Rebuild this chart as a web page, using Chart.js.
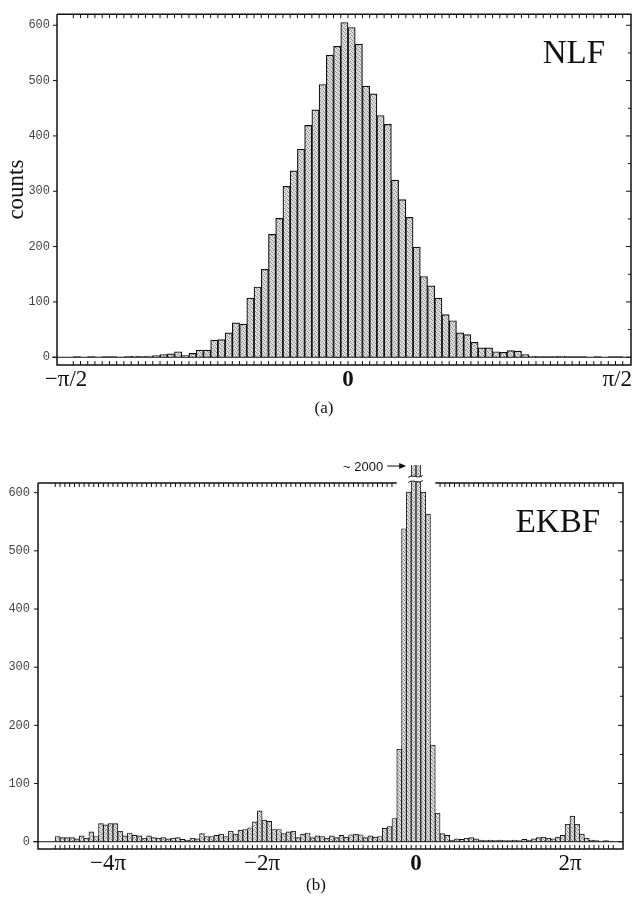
<!DOCTYPE html>
<html>
<head>
<meta charset="utf-8">
<script src="https://cdn.jsdelivr.net/npm/chart.js@4.4.1/dist/chart.umd.min.js"></script>
<style>
  body { margin: 0; background: #fff; width: 633px; height: 915px; position: relative; overflow: hidden; }
  canvas { position: absolute; left: 0; }
  #nlf { top: 0; }
  #ekbf { top: 440px; }
  .cap { position: absolute; font: 17px "Liberation Serif", serif; color: #111; transform: translate(-50%, -50%); }
</style>
</head>
<body>
<canvas id="nlf" width="633" height="400"></canvas>
<canvas id="ekbf" width="633" height="440"></canvas>
<div class="cap" style="left:324px; top:408px;">(a)</div>
<div class="cap" style="left:316px; top:885px;">(b)</div>
<script>
// (a) NLF histogram, bins -38 .. 37 of width pi/78
const nlfBinWidth = Math.PI / 78;
const nlfFirstBin = -38;
const nlfCounts = [
  1, 0, 1, 0, 1, 1, 0, 1,
  2, 1, 2, 3, 5, 6, 10, 3, 7, 13,
  13, 31, 32, 44, 62, 60, 107, 127, 159, 222,
  251, 309, 337, 376, 419, 447, 493, 546, 562, 605,
  596, 566, 490, 476, 437, 421, 320, 285, 253, 199,
  146, 129, 107, 77, 66, 44, 41, 27, 17, 17,
  10, 9, 12, 11, 5, 2, 1, 1, 1, 2,
  1, 1, 1, 0, 1, 0, 1, 1
];
const nlfTickValues = [-Math.PI / 2, 0, Math.PI / 2];
const nlfTickLabels = ['−π/2', '0', 'π/2'];

// (b) EKBF histogram, bins -75 .. 40 of width pi/16
const ekbfBinWidth = Math.PI / 16;
const ekbfFirstBin = -75;
const ekbfCounts = [
  9, 7, 7, 7, 5, 10, 6, 17, 9,
  31, 29, 31, 31, 18, 10, 15, 11, 10, 6,
  10, 7, 6, 7, 5, 6, 7, 4, 3, 6,
  5, 14, 9, 9, 11, 13, 9, 18, 13, 20,
  21, 24, 34, 53, 37, 35, 21, 21, 14, 17,
  18, 7, 13, 15, 7, 10, 9,
  6, 10, 7, 11, 8, 12, 13, 12, 7, 10, 8, 9,
  23, 26, 40, 159, 538, 601, 2000, 2000, 601, 563, 166, 49, 14, 11,
  3, 5, 4, 6, 7, 5, 3, 2, 3, 2, 3, 2, 2, 3, 2, 4, 3, 5, 7, 8, 6, 5, 8, 11, 30, 44, 30, 13, 6, 3, 2, 1, 2, 1
];
const ekbfTickValues = [-4 * Math.PI, -2 * Math.PI, 0, 2 * Math.PI];
const ekbfTickLabels = ['−4π', '−2π', '0', '2π'];

const countTicks = [0, 100, 200, 300, 400, 500, 600];

function stipple() {
  const c = document.createElement('canvas');
  c.width = 4; c.height = 4;
  const g = c.getContext('2d');
  g.fillStyle = '#dedede';
  g.fillRect(0, 0, 4, 4);
  g.fillStyle = '#858585';
  [[0, 0], [2, 1], [1, 2], [3, 3]].forEach(p => g.fillRect(p[0], p[1], 1, 1));
  return g.createPattern(c, 'repeat');
}

function binPoints(first, width, counts) {
  return counts.map((c, i) => ({ x: (first + i + 0.5) * width, y: c }));
}

// frame, inward ticks, x labels, panel name, axis break
const framePlugin = {
  id: 'frame',
  afterDatasetsDraw(chart, args, o) {
    const { ctx, chartArea: a, scales: { x, y } } = chart;
    const bars = chart.getDatasetMeta(0).data;
    ctx.save();
    ctx.strokeStyle = '#111';
    ctx.fillStyle = '#111';

    // gap in the top frame over the tall central bars
    let gapL = null, gapR = null;
    if (o.gapAbove) {
      bars.forEach((b, i) => {
        if (o.counts[i] > o.gapAbove) {
          const l = b.x - b.width / 2, r = b.x + b.width / 2;
          gapL = gapL === null ? l : Math.min(gapL, l);
          gapR = gapR === null ? r : Math.max(gapR, r);
        }
      });
    }
    const inGap = px => gapL !== null && px > gapL - 1 && px < gapR + 1;

    // zero line
    const y0 = y.getPixelForValue(0);
    ctx.lineWidth = 1;
    ctx.beginPath();
    ctx.moveTo(a.left - 5, y0);
    ctx.lineTo(a.right, y0);
    ctx.stroke();

    // frame
    ctx.lineWidth = 1.5;
    ctx.beginPath();
    ctx.moveTo(a.left, a.top);
    ctx.lineTo(a.left, a.bottom);
    ctx.lineTo(a.right, a.bottom);
    ctx.lineTo(a.right, a.top);
    if (gapL !== null) {
      ctx.lineTo(gapR, a.top);
      ctx.moveTo(gapL, a.top);
    }
    ctx.lineTo(a.left, a.top);
    ctx.stroke();

    // ticks at bin edges, top and bottom
    ctx.lineWidth = 1;
    ctx.beginPath();
    for (let i = 0; i <= o.counts.length; i++) {
      const px = x.getPixelForValue((o.first + i) * o.width);
      ctx.moveTo(px, a.bottom);
      ctx.lineTo(px, a.bottom - 4);
      if (!inGap(px)) {
        ctx.moveTo(px, a.top);
        ctx.lineTo(px, a.top + 4);
      }
    }
    // count ticks, left outward and right inward
    for (let v = 0; v <= 600; v += 50) {
      const py = y.getPixelForValue(v);
      if (v % 100 === 0) {
        ctx.moveTo(a.left, py);
        ctx.lineTo(a.left - 4, py);
      }
      ctx.moveTo(a.right, py);
      ctx.lineTo(a.right - (v % 100 === 0 ? 5 : 3), py);
    }
    ctx.stroke();

    // x labels
    ctx.textBaseline = 'alphabetic';
    ctx.textAlign = 'center';
    o.tickValues.forEach((v, i) => {
      const label = o.tickLabels[i];
      ctx.font = (label === '0' ? 'bold ' : '') + '23px "Liberation Serif"';
      const w = ctx.measureText(label).width;
      let px = x.getPixelForValue(v);
      px = Math.min(px, chart.width - w / 2 - 1);
      ctx.fillText(label, px, a.bottom + 21);
    });

    // panel name
    ctx.font = '33px "Liberation Serif"';
    ctx.textAlign = 'right';
    ctx.fillText(o.name, a.right - o.nameRight, a.top + 49);

    // axis break for bars beyond the scale
    const over = bars.filter((b, i) => o.counts[i] > y.max);
    if (over.length) {
      const l = Math.min(...over.map(b => b.x - b.width / 2)) - 3;
      const r = Math.max(...over.map(b => b.x + b.width / 2)) + 2;
      const yb = a.top - 4;
      ctx.fillStyle = '#fff';
      ctx.fillRect(l, yb - 2.5, r - l, 5);
      ctx.lineWidth = 1;
      [yb - 2.5, yb + 2.5].forEach(yy => {
        ctx.beginPath();
        ctx.moveTo(l, yy + 1);
        ctx.bezierCurveTo(l + (r - l) * 0.35, yy - 3, l + (r - l) * 0.65, yy + 3, r, yy - 1);
        ctx.stroke();
      });
      ctx.fillStyle = '#111';
      ctx.font = '13px "Liberation Sans"';
      ctx.textAlign = 'right';
      ctx.fillText('~ 2000', l - 25, a.top - 12);
      const ay = a.top - 17;
      ctx.beginPath();
      ctx.moveTo(l - 21, ay);
      ctx.lineTo(l - 7, ay);
      ctx.stroke();
      ctx.beginPath();
      ctx.moveTo(l - 2, ay);
      ctx.lineTo(l - 9, ay - 3);
      ctx.lineTo(l - 9, ay + 3);
      ctx.closePath();
      ctx.fill();
    }
    ctx.restore();
  }
};

function histogram(id, o) {
  new Chart(document.getElementById(id), {
    type: 'bar',
    data: {
      datasets: [{
        data: binPoints(o.first, o.width, o.counts),
        backgroundColor: stipple(),
        borderColor: '#111',
        borderWidth: o.borderWidth,
        barPercentage: 1,
        categoryPercentage: 1,
        clip: { left: 0, top: o.clipTop, right: 0, bottom: 0 }
      }]
    },
    options: {
      responsive: false,
      animation: false,
      layout: { padding: o.padding },
      plugins: {
        legend: { display: false },
        tooltip: { enabled: false },
        frame: o
      },
      scales: {
        x: {
          type: 'linear',
          display: false,
          offset: false,
          grid: { offset: false },
          min: o.xMin,
          max: o.xMax
        },
        y: {
          min: o.yMin,
          max: o.yMax,
          afterBuildTicks: s => { s.ticks = countTicks.map(v => ({ value: v })); },
          afterFit: s => { s.width = o.yWidth; },
          grid: { display: false, drawTicks: false },
          border: { display: false },
          ticks: {
            font: { family: 'Liberation Mono', size: 12 },
            color: '#444',
            padding: o.yPad
          },
          title: {
            display: !!o.yTitle,
            text: o.yTitle || '',
            font: { family: 'Liberation Serif', size: 23 },
            color: '#111',
            padding: { top: 3, bottom: 0 }
          }
        }
      }
    },
    plugins: [framePlugin]
  });
}

histogram('nlf', {
  counts: nlfCounts, first: nlfFirstBin, width: nlfBinWidth,
  tickValues: nlfTickValues, tickLabels: nlfTickLabels,
  name: 'NLF', nameRight: 26,
  xMin: -1.6212, xMax: 1.5766, yMin: -14, yMax: 620,
  yWidth: 57, yPad: 7, yTitle: 'counts',
  padding: { top: 8, right: 2, bottom: 35, left: 0 },
  borderWidth: 1.2, clipTop: 0, gapAbove: 0
});

histogram('ekbf', {
  counts: ekbfCounts, first: ekbfFirstBin, width: ekbfBinWidth,
  tickValues: ekbfTickValues, tickLabels: ekbfTickLabels,
  name: 'EKBF', nameRight: 23,
  xMin: -15.43, xMax: 8.449, yMin: -12.5, yMax: 616.6,
  yWidth: 38, yPad: 8, yTitle: null,
  padding: { top: 43, right: 10, bottom: 31, left: 0 },
  borderWidth: 0.9, clipTop: 18, gapAbove: 150
});
</script>
</body>
</html>
